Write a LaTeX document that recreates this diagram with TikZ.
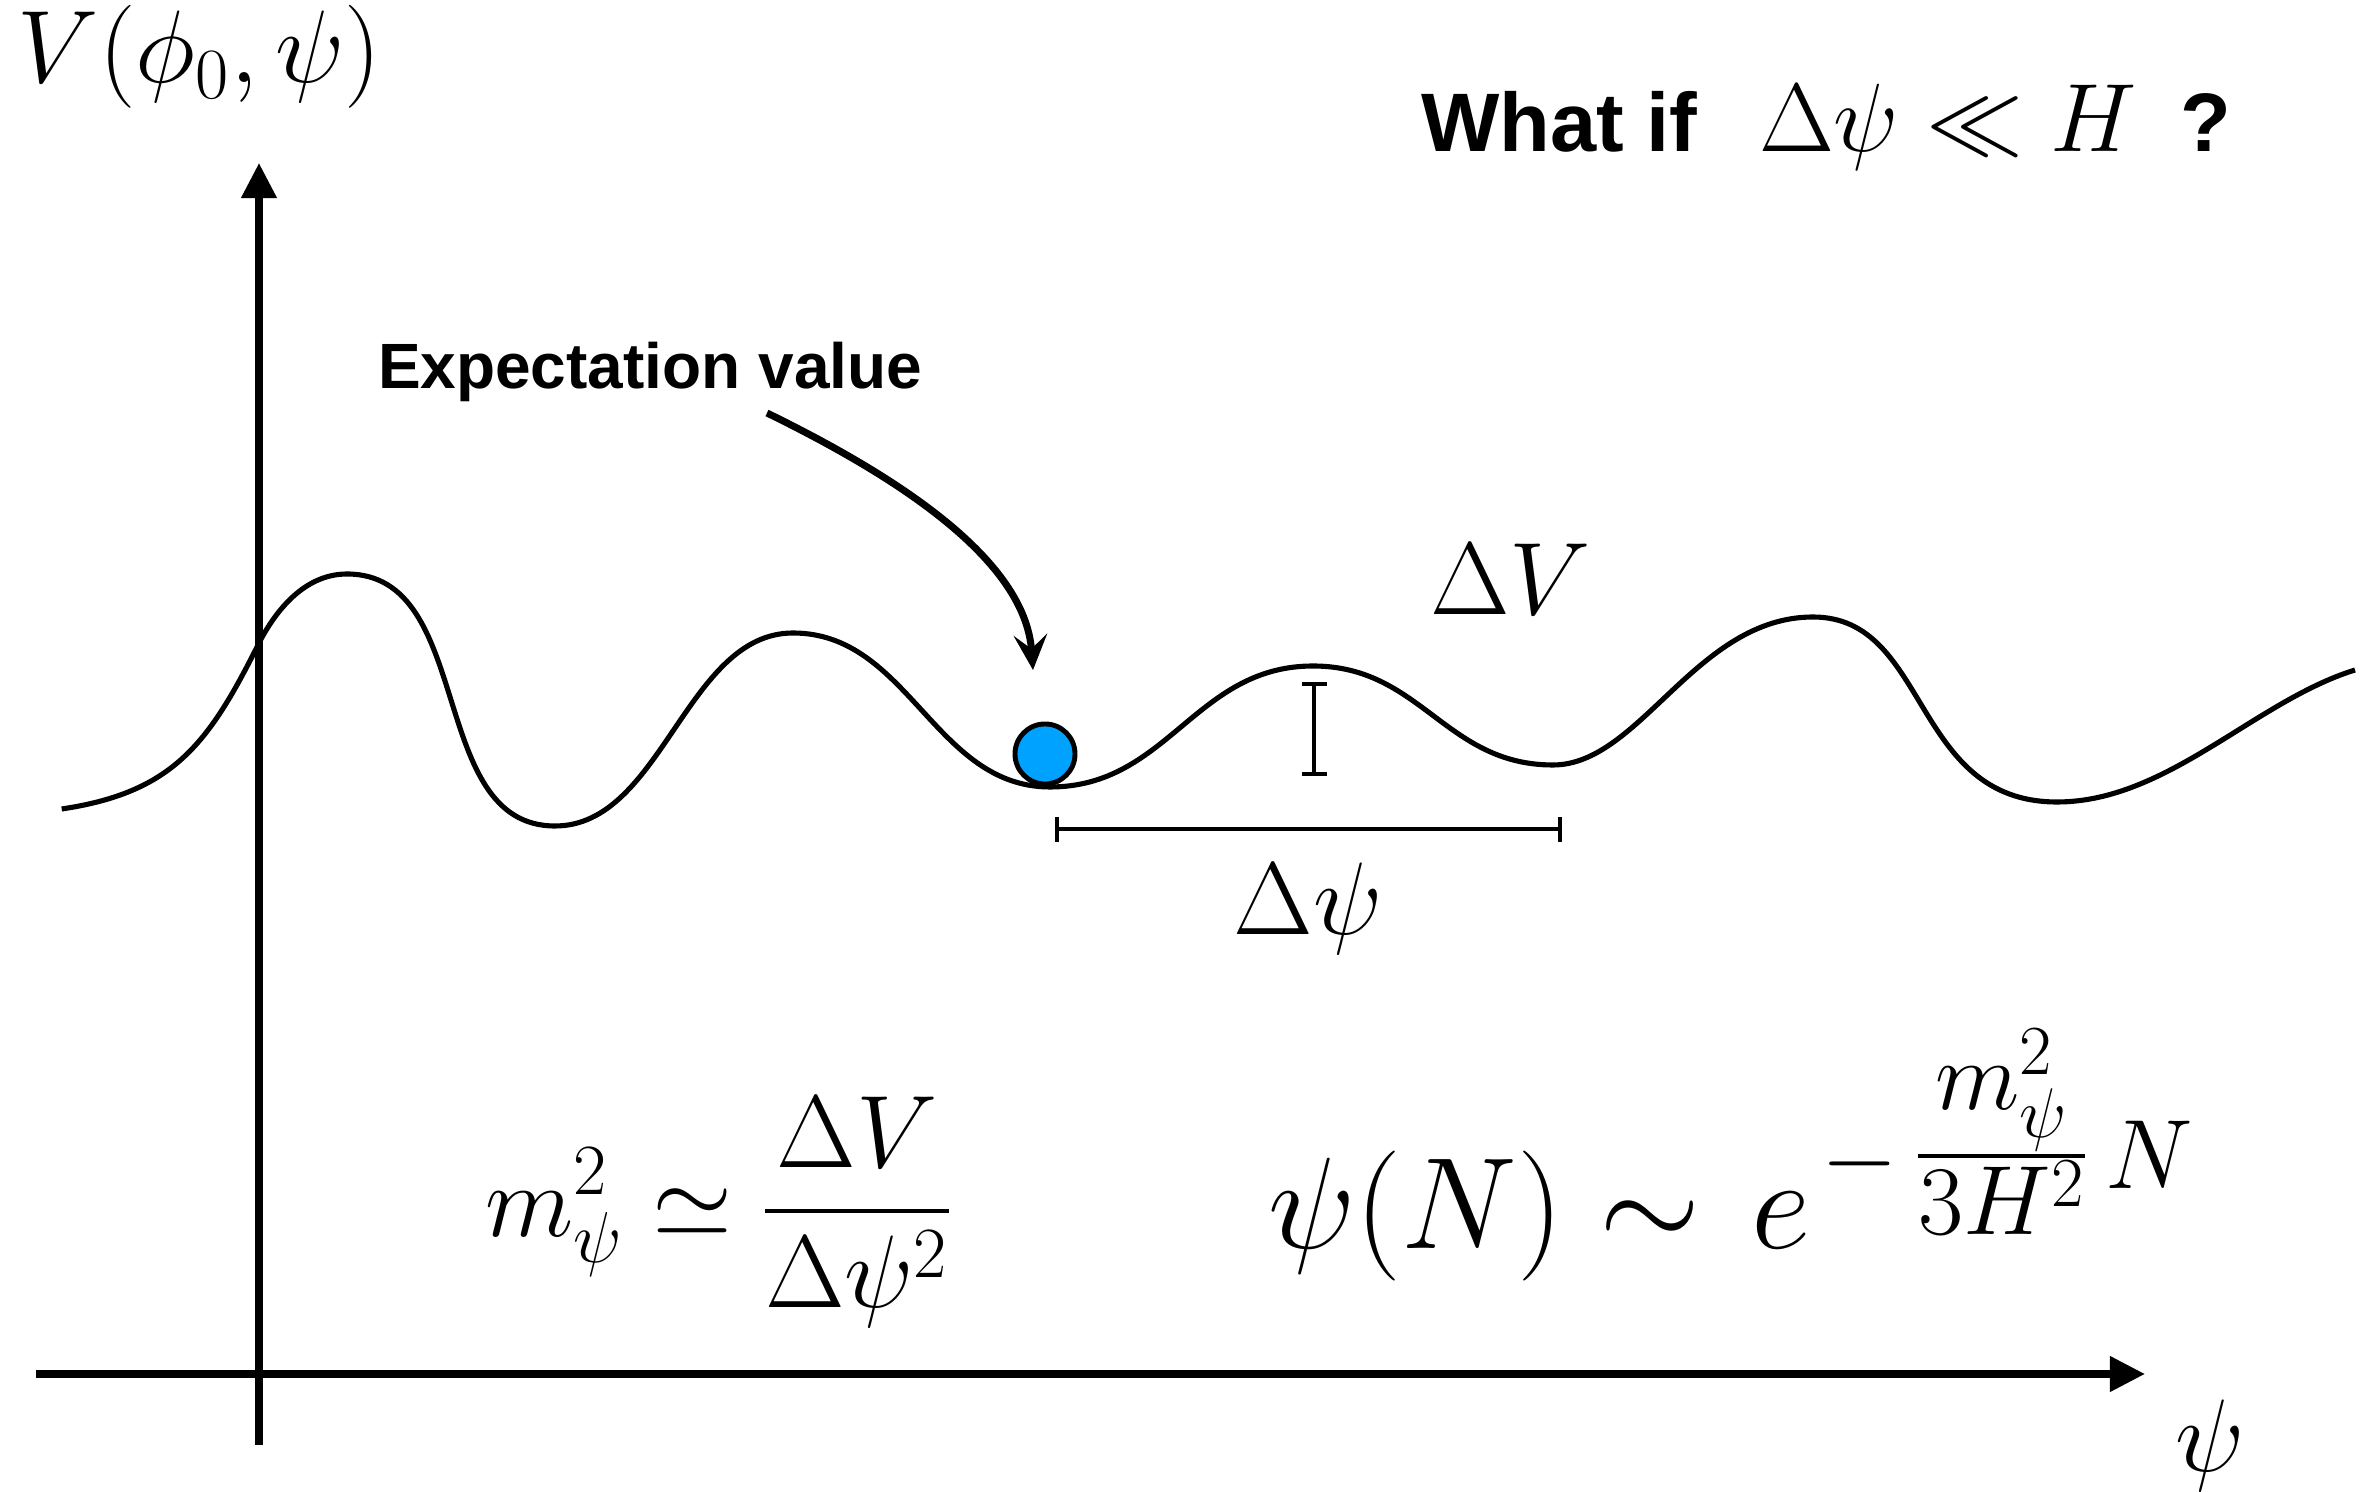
\RequirePackage{fix-cm}
\documentclass[tikz,border=0pt]{standalone}
\usepackage{amsmath}
\usepackage[no-math]{fontspec}
\newfontfamily\labelfont{Liberation Sans}
\usetikzlibrary{arrows.meta}
\definecolor{ballblue}{RGB}{0,162,255}
\DeclareMathSizes{37}{37}{28}{20}
\begin{document}
\begin{tikzpicture}[x=0.01cm,y=-0.01cm,
  axis/.style={line width=2.1pt,-{Triangle[length=10pt,width=9.7pt]}},
  curve/.style={line width=1.45pt},
  marker/.style={line width=1.35pt},
  pointer/.style={line width=2pt,-{Stealth[length=10pt,width=9.5pt,inset=4pt]}},
  lbl/.style={inner sep=0pt,outer sep=0pt},
  mathA/.style={lbl,font=\fontsize{29.3}{35}\selectfont},
  boldA/.style={lbl,font=\labelfont\bfseries\fontsize{23.6}{28}\selectfont},
  ballstyle/.style={circle,draw,fill=ballblue,line width=1.4pt,minimum size=0.6cm,inner sep=0pt},
]
\useasboundingbox (0,0) rectangle (2365,1492);

% axes
\coordinate (yaxS) at (259,1445);
\coordinate (yaxE) at (259,163);
\draw[axis] (yaxS) -- (yaxE);
\coordinate (xaxS) at (36,1374);
\coordinate (xaxE) at (2145,1374);
\draw[axis] (xaxS) -- (xaxE);

% potential
\draw[curve] (61.7,809) .. controls (172,792.5) and (208,745) .. (258,645)
 .. controls (273,615) and (302,574) .. (347,574)
 .. controls (476,574) and (426,826) .. (555,826)
 .. controls (662,826) and (686,633) .. (793,633)
 .. controls (908.6,633) and (934.4,787) .. (1050,787)
 .. controls (1168,787) and (1195,666) .. (1313,666)
 .. controls (1421,666) and (1445,765) .. (1553,765)
 .. controls (1640,765) and (1696,617) .. (1813,617)
 .. controls (1930,617) and (1911,802) .. (2057,802)
 .. controls (2167,802) and (2255,701) .. (2355,670);

% ball
\node[ballstyle] (ball) at (1045,754) {};

% pointer
\coordinate (ptrS) at (767,413);
\coordinate (ptrE) at (1033,670);
\draw[pointer] (ptrS) .. controls (900,478) and (1025,560) .. (ptrE);

% markers
\draw[marker] (1302,684) -- (1327,684) (1314,684) -- (1314,774) (1302,774) -- (1327,774);
\draw[marker] (1057,817) -- (1057,842) (1057,829) -- (1560,829) (1560,817) -- (1560,842);

% labels
\node[lbl,anchor=base west,font=\labelfont\bfseries\fontsize{18.2}{22}\selectfont] (expect) at (378,389) {Expectation value};
\node[mathA,anchor=base west] (vlabel) at (18,83) {$V(\phi_0,\psi)$};
\node[boldA,anchor=base west] (whatif) at (1421,152) {What if};
\node[lbl,anchor=base west,font=\fontsize{27.6}{33}\selectfont] (cond) at (1759,152) {$\Delta\psi \ll H$};
\node[boldA,anchor=base west] (qmark) at (2180,152) {?};
\node[mathA,anchor=base west] (dV) at (1430,615) {$\Delta V$};
\node[mathA,anchor=base] (dpsi) at (1308,935) {$\Delta\psi$};
\node[mathA,anchor=base west] (mass) at (485,1237) {$\displaystyle m_\psi^2 \simeq \frac{\Delta V}{\Delta\psi^2}$};
\node[lbl,anchor=base west,font=\fontsize{37}{44}\selectfont] (decay) at (1268,1249) {$\psi(N) \mathrel{\sim}\mkern2mu e^{\mkern2mu-\mkern3mu\tfrac{m_\psi^2}{3H^2}\mkern3mu N}$};
\node[mathA,anchor=base] (psiax) at (2210,1472) {$\psi$};
\end{tikzpicture}
\end{document}
